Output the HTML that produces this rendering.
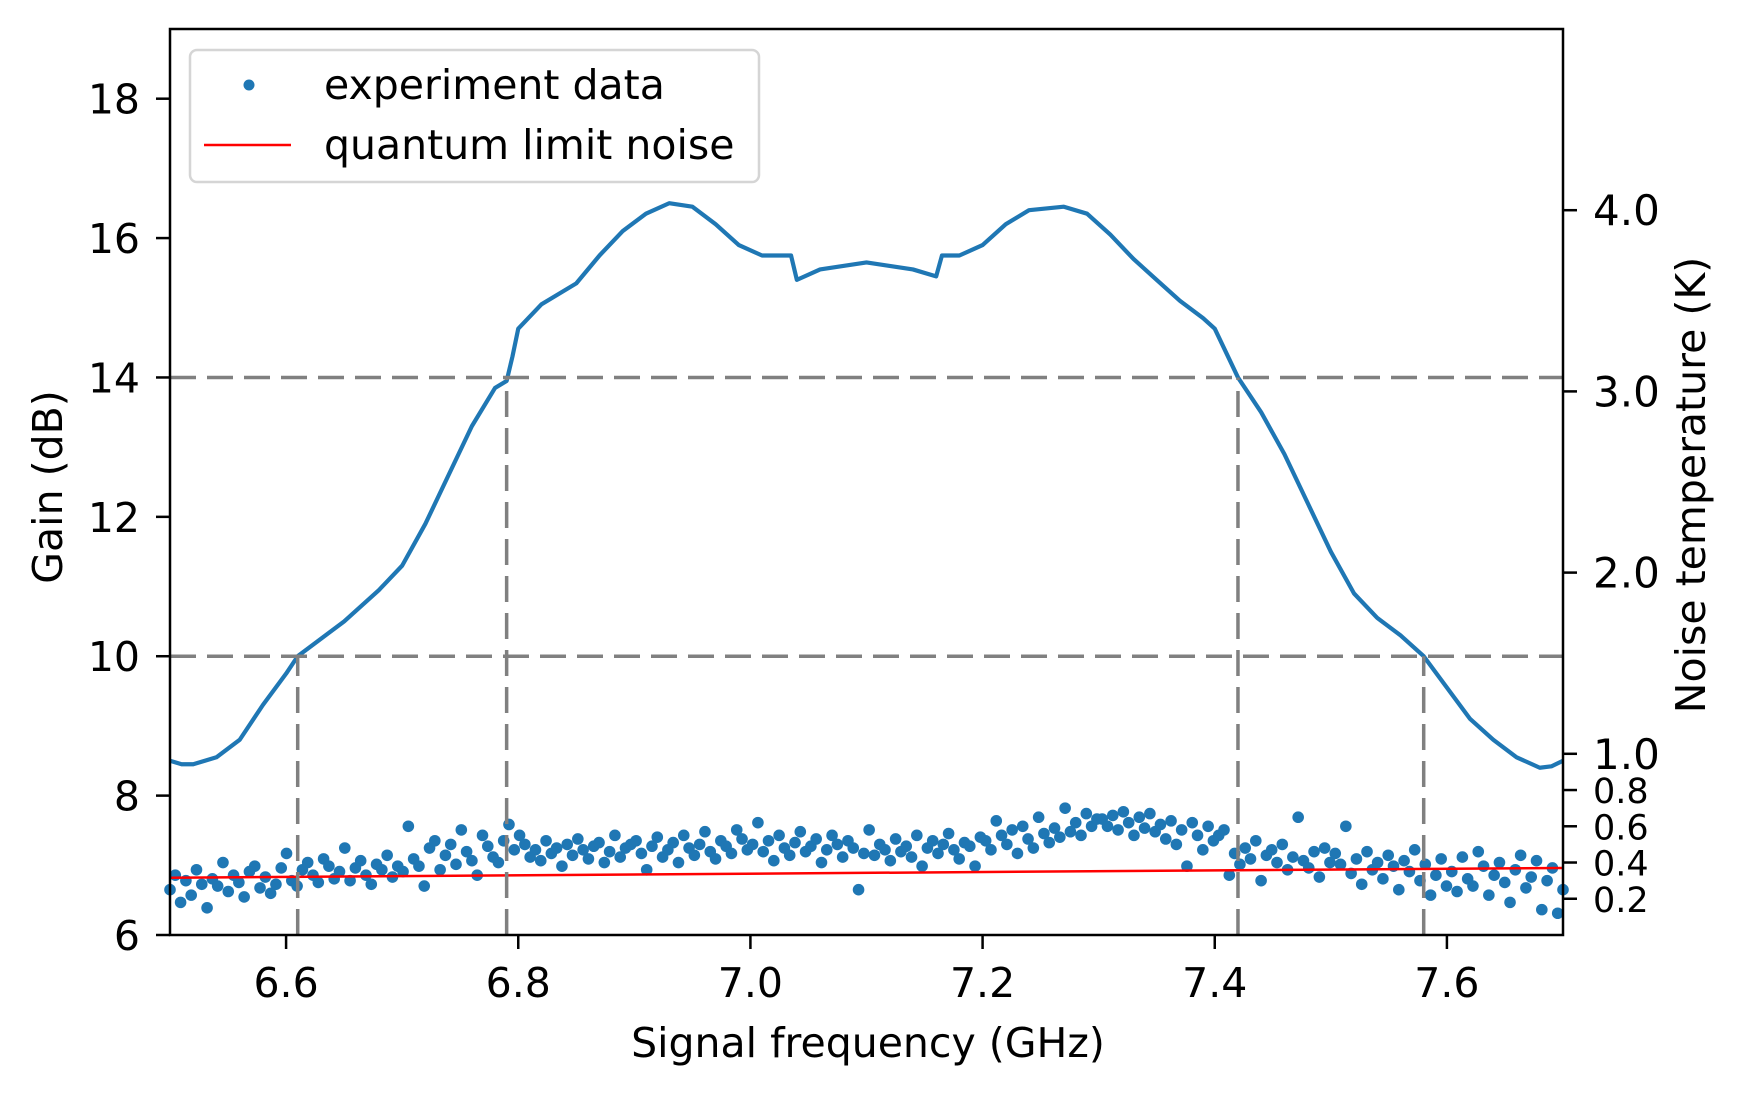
<!DOCTYPE html>
<html><head><meta charset="utf-8"><style>
html,body{margin:0;padding:0;background:#fff;}
svg text{font-family:"DejaVu Sans","Liberation Sans",sans-serif;fill:#000;}
</style></head><body>
<svg id="chart" width="1745" height="1091" viewBox="0 0 1745 1091" xmlns="http://www.w3.org/2000/svg">
<g id="marks"></g>
<text x="868" y="1057" font-size="41" text-anchor="middle">Signal frequency (GHz)</text>
<text x="0" y="0" font-size="41" text-anchor="middle" transform="translate(62,487) rotate(-90)">Gain (dB)</text>
<text x="0" y="0" font-size="41" text-anchor="middle" transform="translate(1705,485) rotate(-90)">Noise temperature (K)</text>
<g>
<rect x="190" y="50" width="569" height="132" rx="7" fill="#fff" fill-opacity="0.85" stroke="#d5d5d5" stroke-width="2.5"/>
<circle cx="249" cy="85" r="5.5" fill="#1f77b4"/>
<text x="324" y="99" font-size="41">experiment data</text>
<line x1="204" y1="145" x2="291" y2="145" stroke="#ff0000" stroke-width="2.5"/>
<text x="324" y="159" font-size="41">quantum limit noise</text>
</g>
</svg>
<script>
const gainFreq = [6.50,6.51,6.52,6.54,6.56,6.58,6.60,6.61,6.63,6.65,6.68,6.70,6.72,6.74,6.76,6.78,6.79,6.795,6.80,6.82,6.85,6.87,6.89,6.91,6.93,6.95,6.97,6.99,7.01,7.035,7.04,7.06,7.08,7.10,7.12,7.14,7.16,7.165,7.18,7.20,7.22,7.24,7.27,7.29,7.31,7.33,7.35,7.37,7.39,7.40,7.42,7.44,7.46,7.48,7.50,7.52,7.54,7.56,7.58,7.60,7.62,7.64,7.66,7.68,7.69,7.70];
const gainDb = [8.5,8.45,8.45,8.55,8.8,9.3,9.75,10.0,10.25,10.5,10.95,11.3,11.9,12.6,13.3,13.85,13.95,14.3,14.7,15.05,15.35,15.75,16.1,16.35,16.5,16.45,16.2,15.9,15.75,15.75,15.4,15.55,15.6,15.65,15.6,15.55,15.45,15.75,15.75,15.9,16.2,16.4,16.45,16.35,16.05,15.7,15.4,15.1,14.85,14.7,14.0,13.5,12.9,12.2,11.5,10.9,10.55,10.3,10.0,9.55,9.1,8.8,8.55,8.4,8.42,8.5];
const noiseK = [0.25,0.33,0.18,0.30,0.22,0.36,0.28,0.15,0.31,0.27,0.40,0.24,0.33,0.29,0.21,0.35,0.38,0.26,0.32,0.23,0.28,0.37,
0.45,0.30,0.27,0.36,0.40,0.33,0.29,0.42,0.38,0.31,0.35,0.48,0.30,0.37,0.41,0.33,0.28,0.39,0.36,0.44,0.32,0.38,
0.35,0.60,0.42,0.38,0.27,0.48,0.52,0.36,0.44,0.50,0.39,0.58,0.46,0.41,0.33,0.55,0.49,0.43,0.40,0.52,0.61,0.47,
0.55,0.50,0.43,0.47,0.41,0.52,0.45,0.48,0.38,0.50,0.44,0.53,0.47,0.42,0.49,0.51,0.40,0.46,0.55,0.43,0.48,0.50,
0.52,0.45,0.36,0.49,0.54,0.43,0.47,0.51,0.40,0.55,0.48,0.44,0.50,0.57,0.46,0.42,0.52,0.49,0.45,0.58,0.53,0.47,
0.50,0.62,0.46,0.52,0.41,0.55,0.48,0.44,0.51,0.57,0.46,0.49,0.53,0.40,0.47,0.55,0.50,0.43,0.52,0.48,0.25,0.45,
0.58,0.44,0.50,0.47,0.41,0.53,0.46,0.49,0.43,0.55,0.38,0.48,0.52,0.45,0.50,0.56,0.47,0.42,0.51,0.49,0.38,0.54,
0.52,0.47,0.63,0.55,0.50,0.58,0.45,0.60,0.53,0.48,0.65,0.56,0.51,0.59,0.54,0.70,0.57,0.62,0.55,0.67,0.60,0.64,
0.64,0.60,0.66,0.58,0.68,0.62,0.55,0.65,0.59,0.67,0.57,0.61,0.53,0.63,0.50,0.58,0.38,0.62,0.55,0.47,0.60,0.52,
0.55,0.58,0.33,0.45,0.39,0.48,0.42,0.52,0.30,0.44,0.47,0.40,0.50,0.36,0.43,0.65,0.41,0.37,0.46,0.32,0.48,0.40,
0.45,0.39,0.60,0.34,0.42,0.28,0.46,0.36,0.40,0.31,0.44,0.38,0.25,0.41,0.35,0.47,0.30,0.39,0.22,0.33,0.42,0.27,
0.35,0.24,0.43,0.31,0.27,0.46,0.38,0.22,0.33,0.40,0.29,0.18,0.36,0.44,0.26,0.32,0.41,0.14,0.30,0.37,0.12,0.25];
const noiseFreqRange = [6.5, 7.7];
const qlFreq = [6.5, 7.7];
const qlK = [0.316, 0.37];
const gainLevels = [10, 14];
const bandEdges10 = [6.61, 7.58];
const bandEdges14 = [6.79, 7.42];
const xTicks = [6.6,6.8,7.0,7.2,7.4,7.6];
const xTickLabels = ["6.6","6.8","7.0","7.2","7.4","7.6"];
const yTicks = [6,8,10,12,14,16,18];
const yTickLabels = ["6","8","10","12","14","16","18"];
const rMajorTicks = [1,2,3,4];
const rMajorLabels = ["1.0","2.0","3.0","4.0"];
const rMinorTicks = [0.2,0.4,0.6,0.8];
const rMinorLabels = ["0.2","0.4","0.6","0.8"];

const L=170,R=1563,T=29,B=935;
const X = f => L + (f-6.5)/(7.7-6.5)*(R-L);
const Y = g => B - (g-6)/(19-6)*(B-T);
const YR = k => B - k/5*(B-T);
const NS='http://www.w3.org/2000/svg';
const g0=document.getElementById('marks');
function mk(tag, attrs){const e=document.createElementNS(NS,tag);for(const k in attrs)e.setAttribute(k,attrs[k]);g0.appendChild(e);return e;}

const n=noiseK.length;
noiseK.forEach((k,i)=>{
  const f=noiseFreqRange[0]+i*(noiseFreqRange[1]-noiseFreqRange[0])/(n-1);
  const c=mk('circle',{cx:X(f),cy:YR(k),r:5.8,fill:'#1f77b4'});
  
  
});
const ql=mk('line',{x1:X(qlFreq[0]),y1:YR(qlK[0]),x2:X(qlFreq[1]),y2:YR(qlK[1]),stroke:'#ff0000','stroke-width':2.5});


const gp=mk('polyline',{points:gainFreq.map((f,i)=>X(f)+','+Y(gainDb[i])).join(' '),fill:'none',stroke:'#1f77b4','stroke-width':4.2,'stroke-linejoin':'round'});


gainLevels.forEach(g=>{
  const d=mk('line',{x1:L,y1:Y(g),x2:R,y2:Y(g),stroke:'#808080','stroke-width':3.5,'stroke-dasharray':'26,11'});
  
  
});
bandEdges10.forEach(f=>{
  const d=mk('line',{x1:X(f),y1:B,x2:X(f),y2:Y(gainLevels[0]),stroke:'#808080','stroke-width':3.5,'stroke-dasharray':'26,11'});
  
  
});
bandEdges14.forEach(f=>{
  const d=mk('line',{x1:X(f),y1:B,x2:X(f),y2:Y(gainLevels[1]),stroke:'#808080','stroke-width':3.5,'stroke-dasharray':'26,11'});
  
  
});
const fr=mk('rect',{x:L,y:T,width:R-L,height:B-T,fill:'none',stroke:'#000','stroke-width':2.5});


xTicks.forEach((v,i)=>{
  mk('line',{x1:X(v),y1:B,x2:X(v),y2:B+14,stroke:'#000','stroke-width':2.5});
  const t=mk('text',{x:X(v),y:B+62,'font-size':41,'text-anchor':'middle'});
  t.textContent=xTickLabels[i];
  
  
});
yTicks.forEach((v,i)=>{
  mk('line',{x1:L-14,y1:Y(v),x2:L,y2:Y(v),stroke:'#000','stroke-width':2.5});
  const t=mk('text',{x:L-30,y:Y(v)+15,'font-size':41,'text-anchor':'end'});
  t.textContent=yTickLabels[i];
  
  
});
rMajorTicks.forEach((v,i)=>{
  mk('line',{x1:R,y1:YR(v),x2:R+14,y2:YR(v),stroke:'#000','stroke-width':2.5});
  const t=mk('text',{x:R+30,y:YR(v)+15,'font-size':42});
  t.textContent=rMajorLabels[i];
  
  
});
rMinorTicks.forEach((v,i)=>{
  mk('line',{x1:R,y1:YR(v),x2:R+14,y2:YR(v),stroke:'#000','stroke-width':2.5});
  const t=mk('text',{x:R+30,y:YR(v)+13,'font-size':35});
  t.textContent=rMinorLabels[i];
  
  
});
</script>
</body></html>
